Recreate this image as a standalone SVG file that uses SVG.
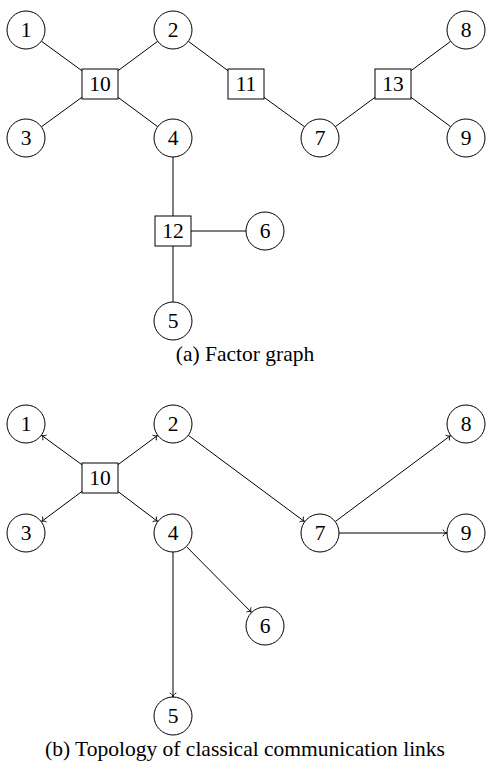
<svg xmlns="http://www.w3.org/2000/svg" width="488" height="769" viewBox="0 0 488 769">
<defs>
<style>
.c{fill:#fff;stroke:#000;stroke-width:1}
.s{fill:#fff;stroke:#000;stroke-width:1}
.t{font-family:"Liberation Serif","Times New Roman",serif;font-size:21.5px;text-anchor:middle;fill:#000}
.e{stroke:#000;stroke-width:1;fill:none}
.a{stroke:#000;stroke-width:1;fill:none;marker-end:url(#arr)}
</style>
<marker id="arr" markerUnits="userSpaceOnUse" viewBox="-6 -5 8 10" refX="0" refY="0" markerWidth="8" markerHeight="10" orient="auto">
<path d="M -4,-3.3 C -3.4,-1.3 -1.6,-0.3 0,0 C -1.6,0.3 -3.4,1.3 -4,3.3" fill="none" stroke="#000" stroke-width="0.9"/>
</marker>
</defs>
<rect width="488" height="769" fill="#fff"/>

<g id="connectors-a">
<line class="e" x1="41.4" y1="41.2" x2="82" y2="70.8"/>
<line class="e" x1="157.7" y1="41.3" x2="118" y2="70.7"/>
<line class="e" x1="41.4" y1="126.8" x2="82" y2="97.2"/>
<line class="e" x1="157.7" y1="126.7" x2="118" y2="97.3"/>
<line class="e" x1="188.3" y1="41.3" x2="228" y2="70.7"/>
<line class="e" x1="264" y1="97.3" x2="304.6" y2="126.8"/>
<line class="e" x1="335.3" y1="126.7" x2="375" y2="97.3"/>
<line class="e" x1="411" y1="70.7" x2="450.7" y2="41.3"/>
<line class="e" x1="411" y1="97.3" x2="450.7" y2="126.7"/>
<line class="e" x1="173" y1="157" x2="173" y2="216"/>
<line class="e" x1="191" y1="231" x2="246" y2="231"/>
<line class="e" x1="173" y1="246" x2="173" y2="302"/>
</g>

<g id="a-n1"><circle class="c" cx="26" cy="30" r="19"/><text class="t" x="26" y="37">1</text></g>
<g id="a-n2"><circle class="c" cx="173" cy="30" r="19"/><text class="t" x="173" y="37">2</text></g>
<g id="a-n3"><circle class="c" cx="26" cy="138" r="19"/><text class="t" x="26" y="145">3</text></g>
<g id="a-n4"><circle class="c" cx="173" cy="138" r="19"/><text class="t" x="173" y="145">4</text></g>
<g id="a-n7"><circle class="c" cx="320" cy="138" r="19"/><text class="t" x="320" y="145">7</text></g>
<g id="a-n8"><circle class="c" cx="466" cy="30" r="19"/><text class="t" x="466" y="37">8</text></g>
<g id="a-n9"><circle class="c" cx="466" cy="138" r="19"/><text class="t" x="466" y="145">9</text></g>
<g id="a-n6"><circle class="c" cx="265" cy="231" r="19"/><text class="t" x="265" y="238">6</text></g>
<g id="a-n5"><circle class="c" cx="173" cy="321" r="19"/><text class="t" x="173" y="328">5</text></g>
<g id="a-f10"><rect class="s" x="82" y="69" width="36" height="30"/><text class="t" x="100" y="91">10</text></g>
<g id="a-f11"><rect class="s" x="228" y="69" width="36" height="30"/><text class="t" x="246" y="91">11</text></g>
<g id="a-f13"><rect class="s" x="375" y="69" width="36" height="30"/><text class="t" x="393" y="91">13</text></g>
<g id="a-f12"><rect class="s" x="155" y="216" width="36" height="30"/><text class="t" x="173" y="238">12</text></g>
<text class="t" x="245" y="361">(a) Factor graph</text>

<g id="connectors-b">
<line class="a" x1="82" y1="464.8" x2="41.4" y2="435.2"/>
<line class="a" x1="118" y1="464.7" x2="157.7" y2="435.3"/>
<line class="a" x1="82" y1="491.4" x2="41.3" y2="521.7"/>
<line class="a" x1="118" y1="491.5" x2="157.8" y2="521.6"/>
<line class="a" x1="188.3" y1="435.3" x2="304.7" y2="521.7"/>
<line class="a" x1="335.2" y1="521.6" x2="450.8" y2="435.4"/>
<line class="a" x1="339" y1="533" x2="447" y2="533"/>
<line class="a" x1="186.4" y1="546.5" x2="251.6" y2="612.5"/>
<line class="a" x1="173" y1="552" x2="173" y2="697"/>
</g>

<g id="b-n1"><circle class="c" cx="26" cy="424" r="19"/><text class="t" x="26" y="431">1</text></g>
<g id="b-n2"><circle class="c" cx="173" cy="424" r="19"/><text class="t" x="173" y="431">2</text></g>
<g id="b-n3"><circle class="c" cx="26" cy="533" r="19"/><text class="t" x="26" y="540">3</text></g>
<g id="b-n4"><circle class="c" cx="173" cy="533" r="19"/><text class="t" x="173" y="540">4</text></g>
<g id="b-n7"><circle class="c" cx="320" cy="533" r="19"/><text class="t" x="320" y="540">7</text></g>
<g id="b-n8"><circle class="c" cx="466" cy="424" r="19"/><text class="t" x="466" y="431">8</text></g>
<g id="b-n9"><circle class="c" cx="466" cy="533" r="19"/><text class="t" x="466" y="540">9</text></g>
<g id="b-n6"><circle class="c" cx="265" cy="626" r="19"/><text class="t" x="265" y="633">6</text></g>
<g id="b-n5"><circle class="c" cx="173" cy="716" r="19"/><text class="t" x="173" y="723">5</text></g>
<g id="b-f10"><rect class="s" x="82" y="463" width="36" height="30"/><text class="t" x="100" y="485">10</text></g>
<text class="t" x="245" y="756">(b) Topology of classical communication links</text>
</svg>
